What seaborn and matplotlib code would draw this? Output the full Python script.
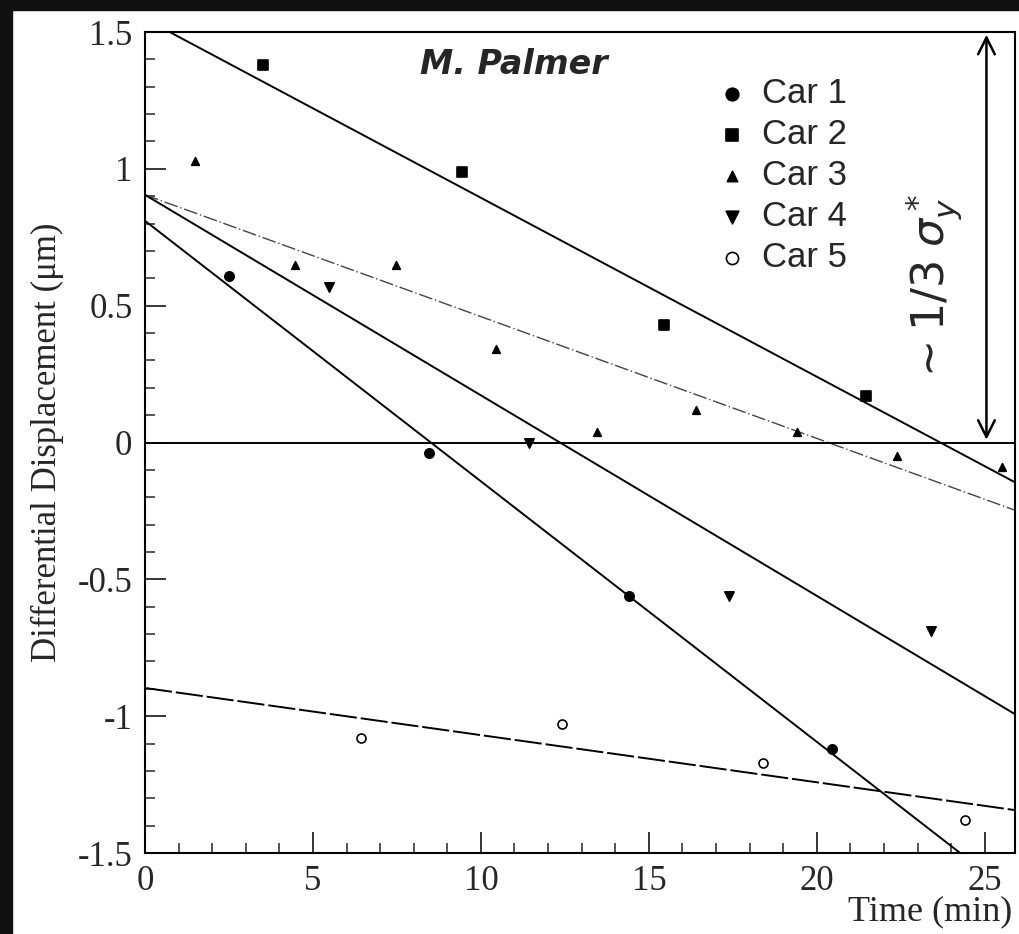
import numpy as np
import pandas as pd
import matplotlib
matplotlib.use("Agg")
import matplotlib.pyplot as plt
from matplotlib.patches import Rectangle
import seaborn as sns

# ---------------- data ----------------
cars = ["Car 1", "Car 2", "Car 3", "Car 4", "Car 5"]

car1_t = [2.5, 8.45, 14.4, 20.45]
car1_d = [0.61, -0.04, -0.56, -1.12]
car2_t = [3.5, 9.43, 15.45, 21.46]
car2_d = [1.38, 0.99, 0.43, 0.17]
car3_t = [1.5, 4.46, 7.47, 10.45, 13.45, 16.4, 19.4, 22.4, 25.5]
car3_d = [1.03, 0.65, 0.65, 0.34, 0.04, 0.12, 0.04, -0.05, -0.09]
car4_t = [5.48, 11.43, 17.4, 23.4]
car4_d = [0.57, 0.0, -0.56, -0.69]
car5_t = [6.43, 12.4, 18.4, 24.4]
car5_d = [-1.08, -1.03, -1.17, -1.38]

# fit-line end points (start time, end time, start value, end value)
fit_t0 = [0.0, 0.0, 0.0, 0.0, 0.0]
fit_t1 = [26.0, 26.0, 26.0, 26.0, 26.0]
fit_d0 = [0.81, 1.548, 0.905, 0.905, -0.897]
fit_d1 = [-1.665, -0.152, -0.252, -1.0, -1.345]

x_ticks = [0, 5, 10, 15, 20, 25]
y_ticks = [-1.5, -1, -0.5, 0, 0.5, 1, 1.5]
y_tick_labels = ["-1.5", "-1", "-0.5", "0", "0.5", "1", "1.5"]

# ---------------- styling ----------------
sns.set_style("ticks")
plt.rcParams["font.family"] = ["Liberation Serif", "DejaVu Serif"]

fig = plt.figure(figsize=(10.19, 9.34), dpi=100)
ax = fig.add_axes([145 / 1019, 1 - 853 / 934, (1015 - 145) / 1019, (853 - 32) / 934])

pts = pd.concat([
    pd.DataFrame({"t": car1_t, "d": car1_d, "car": cars[0]}),
    pd.DataFrame({"t": car2_t, "d": car2_d, "car": cars[1]}),
    pd.DataFrame({"t": car3_t, "d": car3_d, "car": cars[2]}),
    pd.DataFrame({"t": car4_t, "d": car4_d, "car": cars[3]}),
    pd.DataFrame({"t": car5_t, "d": car5_d, "car": cars[4]}),
], ignore_index=True)

fits = pd.DataFrame({
    "t": fit_t0 + fit_t1,
    "d": fit_d0 + fit_d1,
    "car": cars + cars,
})

line_styles = {
    "Car 1": dict(ls="-", lw=1.4, color="black"),
    "Car 2": dict(ls="-", lw=1.4, color="black"),
    "Car 3": dict(ls=(0, (10, 2, 1, 2)), lw=1.0, color="#444444"),
    "Car 4": dict(ls="-", lw=1.4, color="black"),
    "Car 5": dict(ls=(0, (14, 2)), lw=1.4, color="black"),
}
for car in cars:
    sub = fits[fits["car"] == car]
    sns.lineplot(data=sub, x="t", y="d", ax=ax, legend=False, estimator=None,
                 sort=True, **line_styles[car])

ax.axhline(0, color="black", lw=1.4)

markers = {"Car 1": "o", "Car 2": "s", "Car 3": "^", "Car 4": "v", "Car 5": "o"}
sizes = {"Car 1": 45, "Car 2": 42, "Car 3": 30, "Car 4": 45, "Car 5": 42}
for car in cars:
    sub = pts[pts["car"] == car]
    face = "white" if car == "Car 5" else "black"
    sns.scatterplot(data=sub, x="t", y="d", ax=ax, marker=markers[car],
                    s=sizes[car], color=face, edgecolor="black",
                    linewidth=1.2, label=car, zorder=5)

ax.set_xlim(0, 25.9)
ax.set_ylim(-1.5, 1.5)
ax.set_xticks(x_ticks)
ax.set_xticks(np.arange(0, 26, 1), minor=True)
ax.set_yticks(y_ticks)
ax.set_yticklabels(y_tick_labels)
ax.set_yticks(np.arange(-1.5, 1.51, 0.1), minor=True)
ax.tick_params(axis="both", which="major", direction="in", length=15, width=1.3,
               labelsize=25, top=False, right=False, pad=9)
ax.tick_params(axis="both", which="minor", direction="in", length=7, width=1.1,
               top=False, right=False)
for s in ax.spines.values():
    s.set_linewidth(1.5)
    s.set_color("black")

ax.set_xlabel("")
ax.set_ylabel("Differential Displacement (\u03bcm)", fontsize=25, labelpad=10)
fig.text(1012 / 1019, 1 - 912 / 934, "Time (min)", ha="right", va="center",
         fontsize=26)

leg = ax.legend(loc="upper left", bbox_to_anchor=(0.643, 0.962), frameon=False,
                prop={"family": "Liberation Sans", "size": 25},
                handletextpad=0.45, labelspacing=0.23, handlelength=0.8,
                borderaxespad=0.0, markerscale=1.35)

# handwritten annotations
ax.text(8.2, 1.38, "M. Palmer", fontsize=24, fontweight="bold",
        family="DejaVu Sans", style="italic", ha="left", va="center")
ax.annotate("", xy=(25.05, 1.5), xytext=(25.05, 0.0),
            arrowprops=dict(arrowstyle="<->", color="black", lw=1.8,
                            mutation_scale=30))
ax.text(23.5, 0.56, r"$\sim 1/3\;\sigma^*_y$", fontsize=32, rotation=90,
        ha="center", va="center")

# scan frame edges
fig.patches.append(Rectangle((0, 1 - 10 / 934), 1, 10 / 934, transform=fig.transFigure,
                             color="#111111", zorder=0))
fig.patches.append(Rectangle((0, 0), 12 / 1019, 1, transform=fig.transFigure,
                             color="#111111", zorder=0))

fig.savefig("out.png", dpi=100)
